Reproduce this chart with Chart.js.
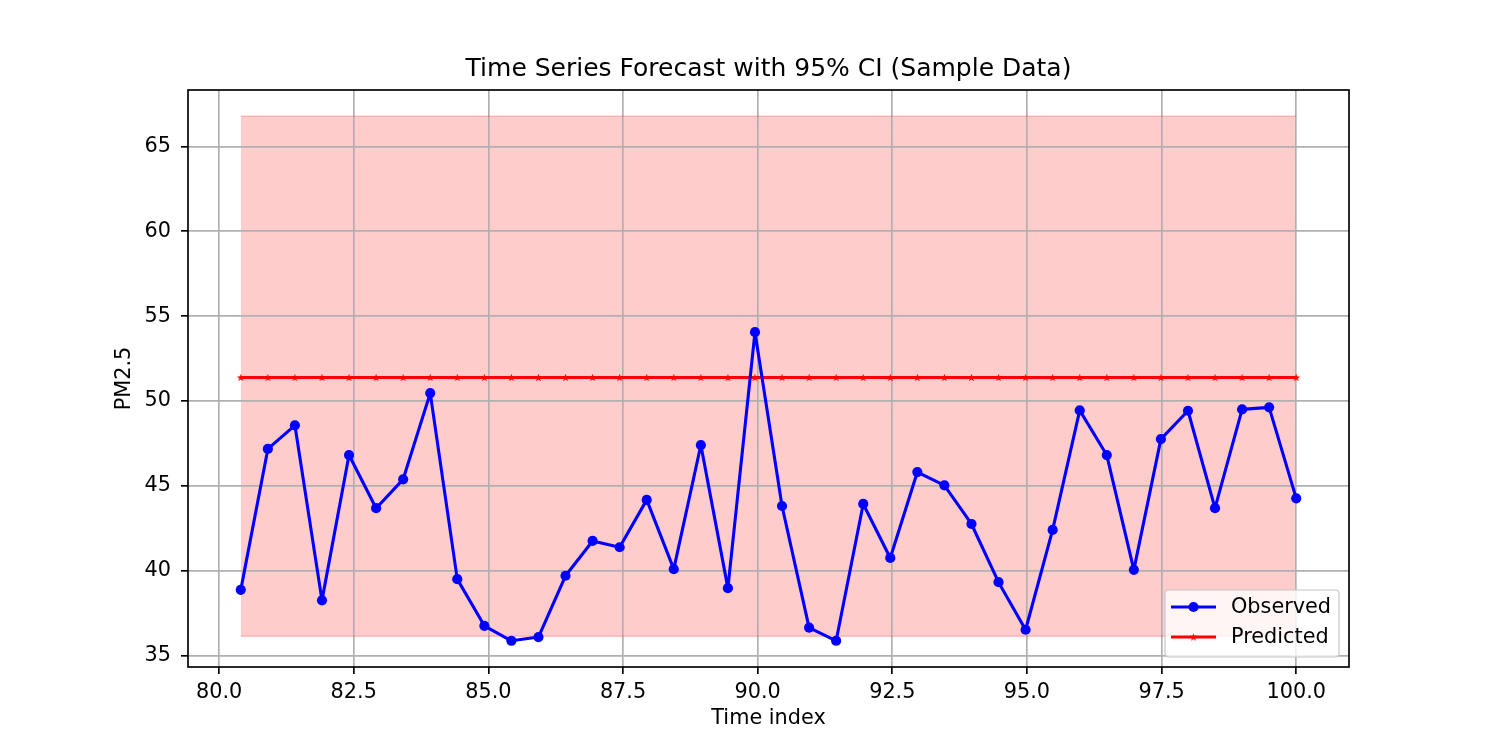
<!DOCTYPE html>
<html>
<head>
<meta charset="utf-8">
<title>Time Series Forecast</title>
<script src="https://cdn.jsdelivr.net/npm/chart.js@4/dist/chart.umd.min.js"></script>
<style>
    html, body { margin: 0; padding: 0; background: #fff; }
    canvas { display: block; }
</style>
</head>
<body>
<canvas id="forecastChart" width="1500" height="750"></canvas>
<script>
// Time index of the test window
const timeIndex = [
    80.402, 80.905, 81.407, 81.910, 82.412, 82.915, 83.417, 83.920, 84.422, 84.925,
    85.427, 85.930, 86.432, 86.935, 87.437, 87.940, 88.442, 88.945, 89.447, 89.950,
    90.452, 90.955, 91.457, 91.960, 92.462, 92.965, 93.467, 93.970, 94.472, 94.975,
    95.477, 95.980, 96.482, 96.985, 97.487, 97.990, 98.492, 98.995, 99.497, 100.000
];

const observed = [
    38.88, 47.18, 48.57, 38.26, 46.82, 43.69, 45.39, 50.47, 39.51, 36.76,
    35.88, 36.10, 39.71, 41.76, 41.39, 44.18, 40.10, 47.41, 38.98, 54.06,
    43.82, 36.65, 35.88, 43.94, 40.76, 45.82, 45.04, 42.76, 39.33, 36.53,
    42.41, 49.45, 46.82, 40.06, 47.76, 49.43, 43.69, 49.51, 49.63, 44.27
];

const predicted = [
    51.39, 51.39, 51.39, 51.39, 51.39, 51.39, 51.39, 51.39, 51.39, 51.39,
    51.39, 51.39, 51.39, 51.39, 51.39, 51.39, 51.39, 51.39, 51.39, 51.39,
    51.39, 51.39, 51.39, 51.39, 51.39, 51.39, 51.39, 51.39, 51.39, 51.39,
    51.39, 51.39, 51.39, 51.39, 51.39, 51.39, 51.39, 51.39, 51.39, 51.39
];

const ciLower = [
    36.14, 36.14, 36.14, 36.14, 36.14, 36.14, 36.14, 36.14, 36.14, 36.14,
    36.14, 36.14, 36.14, 36.14, 36.14, 36.14, 36.14, 36.14, 36.14, 36.14,
    36.14, 36.14, 36.14, 36.14, 36.14, 36.14, 36.14, 36.14, 36.14, 36.14,
    36.14, 36.14, 36.14, 36.14, 36.14, 36.14, 36.14, 36.14, 36.14, 36.14
];

const ciUpper = [
    66.78, 66.78, 66.78, 66.78, 66.78, 66.78, 66.78, 66.78, 66.78, 66.78,
    66.78, 66.78, 66.78, 66.78, 66.78, 66.78, 66.78, 66.78, 66.78, 66.78,
    66.78, 66.78, 66.78, 66.78, 66.78, 66.78, 66.78, 66.78, 66.78, 66.78,
    66.78, 66.78, 66.78, 66.78, 66.78, 66.78, 66.78, 66.78, 66.78, 66.78
];

const xTicks = [80, 82.5, 85, 87.5, 90, 92.5, 95, 97.5, 100];
const yTicks = [35, 40, 45, 50, 55, 60, 65];

const FONT = '"DejaVu Sans", "Liberation Sans", sans-serif';

function pairs(ys) {
    return timeIndex.map((x, i) => ({ x: x, y: ys[i] }));
}

// filled five-point star marker, like matplotlib's '*'
function makeStar(color, outer) {
    const size = Math.ceil(outer * 2 + 2);
    const c = document.createElement('canvas');
    c.width = size;
    c.height = size;
    const g = c.getContext('2d');
    const inner = outer * 0.4;
    g.beginPath();
    for (let k = 0; k < 10; k++) {
        const r = k % 2 === 0 ? outer : inner;
        const a = -Math.PI / 2 + k * Math.PI / 5;
        const px = size / 2 + r * Math.cos(a);
        const py = size / 2 + r * Math.sin(a) + outer * 0.1;
        if (k === 0) g.moveTo(px, py); else g.lineTo(px, py);
    }
    g.closePath();
    g.fillStyle = color;
    g.fill();
    return c;
}
const starMarker = makeStar('#ff0000', 4.2);

// axes frame on all four sides
const framePlugin = {
    id: 'frame',
    afterDatasetsDraw(chart) {
        const a = chart.chartArea;
        const ctx = chart.ctx;
        ctx.save();
        ctx.strokeStyle = '#000';
        ctx.lineWidth = 1.67;
        ctx.strokeRect(a.left, a.top, a.right - a.left, a.bottom - a.top);
        ctx.restore();
    }
};

// legend in the lower right corner inside the axes
const cornerLegend = {
    id: 'cornerLegend',
    afterDraw(chart) {
        const a = chart.chartArea;
        const ctx = chart.ctx;
        const items = chart.data.datasets.filter(d => d.inLegend);
        const w = 174, h = 67;
        const x0 = a.right - 10 - w;
        const y0 = a.bottom - 10 - h;
        ctx.save();
        ctx.beginPath();
        ctx.roundRect(x0, y0, w, h, 4);
        ctx.fillStyle = 'rgba(255,255,255,0.8)';
        ctx.fill();
        ctx.strokeStyle = 'rgba(204,204,204,0.8)';
        ctx.lineWidth = 1.67;
        ctx.stroke();

        items.forEach((d, i) => {
            const cy = y0 + 17 + i * 30;
            ctx.beginPath();
            ctx.moveTo(x0 + 6, cy);
            ctx.lineTo(x0 + 51, cy);
            ctx.strokeStyle = d.borderColor;
            ctx.lineWidth = d.borderWidth;
            ctx.stroke();
            const mx = x0 + 28.5;
            if (d.pointStyle === 'circle') {
                ctx.beginPath();
                ctx.arc(mx, cy, d.pointRadius, 0, Math.PI * 2);
                ctx.fillStyle = d.pointBackgroundColor;
                ctx.fill();
            } else {
                ctx.drawImage(d.pointStyle, mx - d.pointStyle.width / 2, cy - d.pointStyle.height / 2);
            }
            ctx.fillStyle = '#000';
            ctx.font = '20.8px ' + FONT;
            ctx.textAlign = 'left';
            ctx.textBaseline = 'middle';
            ctx.fillText(d.label, x0 + 66, cy + 1);
        });
        ctx.restore();
    }
};

const ctx = document.getElementById('forecastChart');
window.forecastChart = new Chart(ctx, {
    type: 'line',
    data: {
        datasets: [{
            label: 'Observed',
            inLegend: true,
            data: pairs(observed),
            borderColor: '#0000ff',
            backgroundColor: '#0000ff',
            borderWidth: 3.1,
            borderJoinStyle: 'round',
            pointStyle: 'circle',
            pointRadius: 5.1,
            pointBorderWidth: 0,
            pointBackgroundColor: '#0000ff',
            tension: 0,
            fill: false
        },
        {
            label: 'Predicted',
            inLegend: true,
            data: pairs(predicted),
            borderColor: '#ff0000',
            backgroundColor: '#ff0000',
            borderWidth: 3.1,
            borderJoinStyle: 'round',
            pointStyle: starMarker,
            pointRadius: 4,
            tension: 0,
            fill: false
        },
        {
            label: '95% CI upper',
            data: pairs(ciUpper),
            borderColor: 'rgba(255,0,0,0.2)',
            backgroundColor: 'rgba(255,0,0,0.2)',
            borderWidth: 1.5,
            pointRadius: 0,
            fill: '+1'
        },
        {
            label: '95% CI lower',
            data: pairs(ciLower),
            borderColor: 'rgba(255,0,0,0.2)',
            backgroundColor: 'rgba(255,0,0,0.2)',
            borderWidth: 1.5,
            pointRadius: 0,
            fill: false
        }]
    },
    options: {
        responsive: false,
        animation: false,
        devicePixelRatio: 1,
        layout: {
            padding: { left: 0, right: 151, top: 0, bottom: 0 }
        },
        plugins: {
            legend: { display: false },
            tooltip: { enabled: false },
            // band goes under the grid, as in matplotlib
            filler: { drawTime: 'beforeDraw' },
            title: {
                display: true,
                fullSize: false,
                text: 'Time Series Forecast with 95% CI (Sample Data)',
                color: '#000',
                font: { family: FONT, size: 25, weight: 'normal', lineHeight: 1.2 },
                padding: { top: 54, bottom: 6 }
            }
        },
        scales: {
            x: {
                type: 'linear',
                min: 79.422,
                max: 100.98,
                afterFit: function(scale) { scale.height = 83; },
                afterBuildTicks: function(scale) {
                    scale.ticks = xTicks.map(v => ({ value: v }));
                },
                grid: {
                    color: '#b0b0b0',
                    lineWidth: 1.67,
                    tickColor: '#000',
                    tickLength: 7,
                    tickWidth: 1.67
                },
                border: { display: false },
                ticks: {
                    autoSkip: false,
                    maxRotation: 0,
                    color: '#000',
                    padding: 6,
                    font: { family: FONT, size: 20.8 },
                    callback: function(value) { return value.toFixed(1); }
                },
                title: {
                    display: true,
                    text: 'Time index',
                    color: '#000',
                    font: { family: FONT, size: 20.8, lineHeight: 1.2 },
                    padding: { top: 0, bottom: 19 }
                }
            },
            y: {
                type: 'linear',
                min: 34.335,
                max: 68.325,
                afterFit: function(scale) { scale.width = 188; },
                afterBuildTicks: function(scale) {
                    scale.ticks = yTicks.map(v => ({ value: v }));
                },
                grid: {
                    color: '#b0b0b0',
                    lineWidth: 1.67,
                    tickColor: '#000',
                    tickLength: 7,
                    tickWidth: 1.67
                },
                border: { display: false },
                ticks: {
                    autoSkip: false,
                    color: '#000',
                    padding: 10,
                    font: { family: FONT, size: 20.8 },
                    callback: function(value) { return String(value); }
                },
                title: {
                    display: true,
                    text: 'PM2.5',
                    color: '#000',
                    font: { family: FONT, size: 20.8, lineHeight: 1.2 },
                    padding: { top: 112, bottom: 0 }
                }
            }
        }
    },
    plugins: [framePlugin, cornerLegend]
});
</script>
</body>
</html>
